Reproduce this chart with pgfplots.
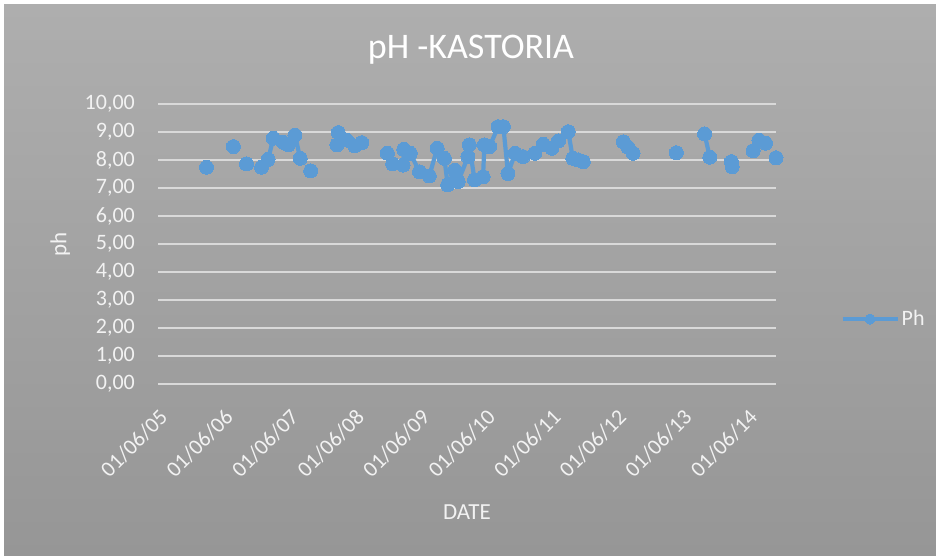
\documentclass[border=0pt]{standalone}
\usepackage{pgfplots}
\pgfplotsset{compat=1.18}
\usepackage{pgfplotstable}
\usepackage{fontspec}
\setmainfont{Carlito}
\definecolor{phblue}{RGB}{91,155,213}
\definecolor{txtc}{RGB}{242,242,242}
\definecolor{gridc}{RGB}{217,217,217}
\pgfplotstableread{
x y
0.74 7.74
0.80 nan
1.15 8.48
1.20 nan
1.35 7.86
1.40 nan
1.58 7.74
1.68 8.02
1.76 8.78
1.91 8.63
1.99 8.54
2.09 8.89
2.17 8.06
2.20 nan
2.33 7.61
2.40 nan
2.73 8.54
2.75 8.98
2.88 8.71
3.00 8.50
3.11 8.62
3.20 nan
3.50 8.24
3.58 7.86
3.74 7.82
3.75 8.38
3.85 8.24
3.99 7.58
4.14 7.43
4.26 8.42
4.37 8.06
4.42 7.11
4.53 7.64
4.58 7.23
4.73 8.12
4.75 8.54
4.83 7.29
4.96 7.40
4.98 8.54
5.06 8.48
5.19 9.19
5.27 9.19
5.34 7.52
5.45 8.24
5.57 8.12
5.75 8.24
5.88 8.56
6.01 8.42
6.11 8.68
6.26 9.01
6.33 8.06
6.41 8.00
6.49 7.94
6.60 nan
7.10 8.65
7.17 8.46
7.25 8.24
7.30 nan
7.91 8.26
8.00 nan
8.34 8.93
8.42 8.10
8.50 nan
8.75 7.94
8.76 7.76
8.80 nan
9.08 8.33
9.17 8.71
9.27 8.60
9.35 nan
9.43 8.08
}\phdata
\begin{document}
\begin{tikzpicture}[x=1pt,y=1pt]
\fill[white] (0,0) rectangle (936,556);
\shade[top color={rgb,255:red,174;green,174;blue,174}, bottom color={rgb,255:red,150;green,150;blue,150}] (4,0) rectangle (936,551);
\useasboundingbox (0,0) rectangle (936,556);
\node[text=white, font=\fontsize{36}{40}\selectfont] at (471,506) {pH -KASTORIA};
\begin{axis}[
  at={(158pt,172pt)}, anchor=south west,
  scale only axis, width=618pt, height=280pt,
  xmin=0, xmax=9.43, ymin=0, ymax=10,
  ytick={0,1,...,10}, xtick={0,1,...,9},
  xticklabels={01/06/05,01/06/06,01/06/07,01/06/08,01/06/09,01/06/10,01/06/11,01/06/12,01/06/13,01/06/14},
  axis line style={draw=none},
  major tick length=0pt,
  ymajorgrids, major grid style={draw=gridc, line width=1.5pt},
  clip=false,
  yticklabel style={font=\fontsize{22}{26}\selectfont, text=txtc, inner sep=0pt,
    /pgf/number format/fixed, /pgf/number format/fixed zerofill,
    /pgf/number format/precision=2, /pgf/number format/use comma,
    /pgf/number format/assume math mode=true},
  yticklabel shift=23pt,
  xticklabel style={font=\fontsize{22}{26}\selectfont, text=txtc, inner sep=0pt, rotate=45, anchor=north east},
  xticklabel shift=24pt,
  xlabel={DATE}, ylabel={ph},
  every axis y label/.style={at={(axis description cs:-0.158,0.5)}, rotate=90, anchor=center, font=\fontsize{23}{27}\selectfont, text=txtc},
  every axis x label/.style={at={(axis description cs:0.5,-0.457)}, anchor=center, font=\fontsize{23}{27}\selectfont, text=txtc},
  legend style={at={(axis description cs:1.104,0.232)}, anchor=west, draw=none, fill=none, text=txtc, font=\fontsize{22}{26}\selectfont, inner sep=0pt},
  legend image code/.code={\draw[#1, mark repeat=2, mark phase=2, mark size=5pt] plot coordinates {(0pt,0pt) (27.5pt,0pt) (55pt,0pt)};},
]
\addplot[phblue, line width=4.2pt, line join=round, mark=*, mark size=7pt,
  mark options={fill=phblue, draw=phblue, line width=0pt}, unbounded coords=jump]
  table[x=x, y=y] {\phdata};
\addlegendentry{Ph}
\end{axis}
\end{tikzpicture}
\end{document}
